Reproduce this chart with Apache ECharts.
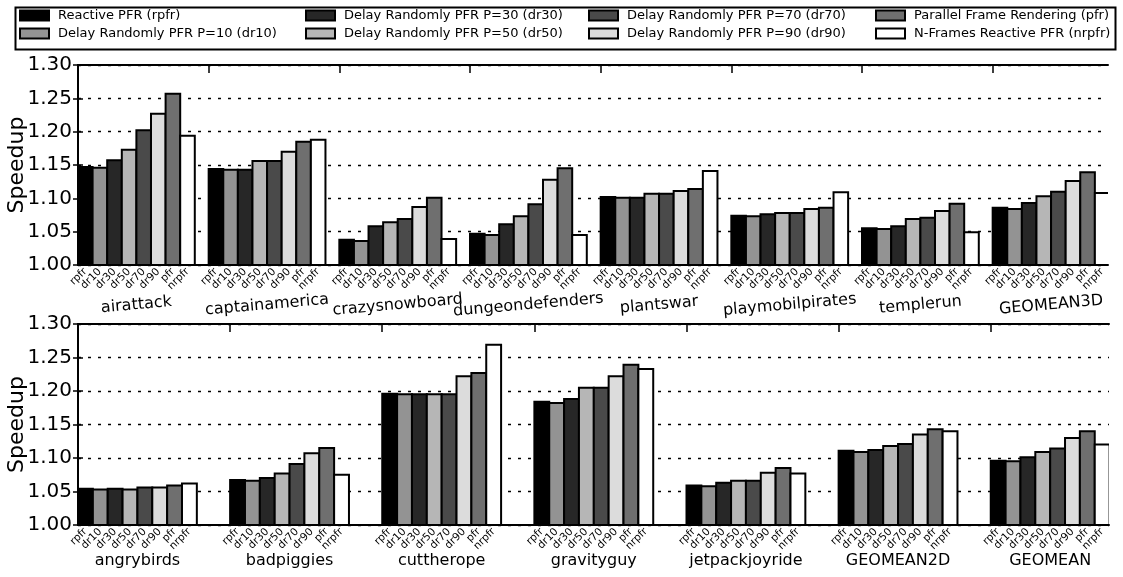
<!DOCTYPE html>
<html>
<head>
<meta charset="utf-8">
<script src="https://cdn.jsdelivr.net/npm/echarts@6/dist/echarts.min.js"></script>
<style>
  html, body { margin: 0; padding: 0; background: #fff; }
  #chart { width: 1123px; height: 577px; }
</style>
</head>
<body>
<div id="chart"></div>
<script>
// Frame-rendering configurations (one bar per configuration in every group)
const configNames = [
  'Reactive PFR (rpfr)',
  'Delay Randomly PFR P=10 (dr10)',
  'Delay Randomly PFR P=30 (dr30)',
  'Delay Randomly PFR P=50 (dr50)',
  'Delay Randomly PFR P=70 (dr70)',
  'Delay Randomly PFR P=90 (dr90)',
  'Parallel Frame Rendering (pfr)',
  'N-Frames Reactive PFR (nrpfr)'
];
const configShort = ['rpfr', 'dr10', 'dr30', 'dr50', 'dr70', 'dr90', 'pfr', 'nrpfr'];

// 3D games: speedup per configuration, in the order of configShort
const groups3D = ['airattack', 'captainamerica', 'crazysnowboard', 'dungeondefenders',
                  'plantswar', 'playmobilpirates', 'templerun', 'GEOMEAN3D'];
const airattack        = [1.147, 1.146, 1.157, 1.173, 1.202, 1.227, 1.257, 1.194];
const captainamerica   = [1.144, 1.143, 1.143, 1.156, 1.156, 1.170, 1.185, 1.188];
const crazysnowboard   = [1.038, 1.036, 1.058, 1.064, 1.069, 1.087, 1.101, 1.039];
const dungeondefenders = [1.047, 1.045, 1.061, 1.073, 1.091, 1.128, 1.145, 1.045];
const plantswar        = [1.102, 1.101, 1.101, 1.107, 1.107, 1.111, 1.114, 1.141];
const playmobilpirates = [1.074, 1.073, 1.076, 1.078, 1.078, 1.084, 1.086, 1.109];
const templerun        = [1.055, 1.054, 1.058, 1.069, 1.071, 1.081, 1.092, 1.049];
const geomean3D        = [1.086, 1.084, 1.093, 1.103, 1.110, 1.126, 1.139, 1.108];

// 2D games
const groups2D = ['angrybirds', 'badpiggies', 'cuttherope', 'gravityguy',
                  'jetpackjoyride', 'GEOMEAN2D', 'GEOMEAN'];
const angrybirds     = [1.054, 1.053, 1.054, 1.053, 1.056, 1.056, 1.059, 1.062];
const badpiggies     = [1.067, 1.066, 1.070, 1.077, 1.091, 1.107, 1.115, 1.075];
const cuttherope     = [1.196, 1.195, 1.195, 1.195, 1.195, 1.222, 1.227, 1.269];
const gravityguy     = [1.184, 1.182, 1.188, 1.205, 1.205, 1.222, 1.239, 1.233];
const jetpackjoyride = [1.059, 1.058, 1.063, 1.066, 1.066, 1.078, 1.085, 1.077];
const geomean2D      = [1.111, 1.109, 1.112, 1.118, 1.121, 1.135, 1.143, 1.140];
const geomean        = [1.096, 1.095, 1.101, 1.109, 1.114, 1.130, 1.140, 1.120];

// Y axis range
const Y_MIN = 1.00, Y_MAX = 1.30, Y_STEP = 0.05;

// ---- styling & layout ----
const FONT = 'DejaVu Sans';
const configColors = ['#000000', '#939393', '#272727', '#b6b6b6', '#4a4a4a', '#dcdcdc', '#6f6f6f', '#ffffff'];

const panels = [
  { groups: groups3D,
    values: [airattack, captainamerica, crazysnowboard, dungeondefenders, plantswar, playmobilpirates, templerun, geomean3D],
    top: 65, height: 200, right: 15, period: 8.95, xMax: 70.55, nameRotate: 5, nameMargin: 40 },
  { groups: groups2D,
    values: [angrybirds, badpiggies, cuttherope, gravityguy, jetpackjoyride, geomean2D, geomean],
    top: 324, height: 201, right: 14, period: 10.24, xMax: 69.4, nameRotate: 0, nameMargin: 36 }
];

function makeBarRenderer(color) {
  return function (params, api) {
    const x = api.value(0), v = api.value(1);
    const base = api.coord([x, Y_MIN]);
    const tip = api.coord([x + 1, v]);
    return {
      type: 'rect',
      shape: { x: base[0], y: tip[1], width: tip[0] - base[0], height: base[1] - tip[1] },
      style: { fill: color, stroke: '#000', lineWidth: 2 }
    };
  };
}

const grids = [], xAxes = [], yAxes = [], series = [];

panels.forEach((p, i) => {
  const nG = p.groups.length;
  grids.push({ left: 78, right: p.right, top: p.top, height: p.height,
               containLabel: false, outerBoundsMode: 'none' });

  const groupCenters = [], groupStarts = [];
  for (let g = 0; g < nG; g++) {
    groupCenters.push(g * p.period + configShort.length / 2);
    if (g > 0) groupStarts.push(g * p.period);
  }
  const groupOf = v => Math.floor(v / p.period + 1e-6);
  const xBase = { type: 'value', gridIndex: i, min: 0, max: p.xMax,
                  splitLine: { show: false } };
  const firstX = xAxes.length;

  // per-bar labels, split over two axes (even / odd configurations)
  // so neighbouring rotated labels never get culled
  [0, 1].forEach(parity => {
    const centers = [];
    for (let g = 0; g < nG; g++) {
      for (let k = parity; k < configShort.length; k += 2) centers.push(g * p.period + k + 0.5);
    }
    xAxes.push(Object.assign({}, xBase, {
      position: 'bottom', z: 10,
      axisLine: { show: parity === 0, lineStyle: { color: '#000', width: 2 } },
      axisTick: { show: false },
      axisLabel: {
        customValues: centers, rotate: 45, margin: 5,
        showMinLabel: true, showMaxLabel: true,
        fontFamily: FONT, fontSize: 10.5, color: '#000',
        formatter: v => configShort[Math.round(v - 0.5 - groupOf(v) * p.period)]
      }
    }));
  });
  // benchmark names
  xAxes.push(Object.assign({}, xBase, {
    position: 'bottom',
    axisLine: { show: false }, axisTick: { show: false },
    axisLabel: {
      customValues: groupCenters, rotate: p.nameRotate, margin: p.nameMargin,
      showMinLabel: true, showMaxLabel: true,
      align: 'center', verticalAlign: 'middle',
      fontFamily: FONT, fontSize: 16, color: '#000',
      formatter: v => p.groups[groupOf(v)]
    }
  }));
  // top frame line with group separators
  xAxes.push(Object.assign({}, xBase, {
    position: 'top', z: 10,
    axisLine: { show: true, lineStyle: { color: '#000', width: 2 } },
    axisTick: { show: true, inside: true, length: 8, customValues: groupStarts,
                lineStyle: { color: '#000', width: 1.5 } },
    axisLabel: { show: false }
  }));

  const yBase = { type: 'value', gridIndex: i, min: Y_MIN, max: Y_MAX, interval: Y_STEP };
  const firstY = yAxes.length;
  // tick labels + dotted grid
  yAxes.push(Object.assign({}, yBase, {
    position: 'left',
    name: 'Speedup', nameLocation: 'middle', nameGap: 50, nameMoveOverlap: false,
    nameTextStyle: { fontFamily: FONT, fontSize: 22, color: '#000' },
    axisLine: { show: false }, axisTick: { show: false },
    axisLabel: { fontFamily: FONT, fontSize: 20, color: '#000', margin: 6,
                 showMinLabel: true, showMaxLabel: true,
                 formatter: v => v.toFixed(2) },
    splitLine: { show: true, lineStyle: { color: '#000', width: 1.3, type: [3, 7] } }
  }));
  // left & right frame lines
  ['left', 'right'].forEach(pos => {
    yAxes.push(Object.assign({}, yBase, {
      position: pos, z: 10,
      axisLine: { show: true, lineStyle: { color: '#000', width: 2 } },
      axisTick: { show: true, inside: true, length: 5, lineStyle: { color: '#000', width: 1.5 } },
      axisLabel: { show: false }, splitLine: { show: false }
    }));
  });

  configShort.forEach((_, k) => {
    series.push({
      type: 'custom', name: configNames[k],
      xAxisIndex: firstX, yAxisIndex: firstY,
      renderItem: makeBarRenderer(configColors[k]),
      itemStyle: { color: configColors[k], borderColor: '#000', borderWidth: 2 },
      encode: { x: 0, y: 1 },
      clip: true, z: 2, silent: true,
      data: p.values.map((gv, g) => [g * p.period + k, gv[k]])
    });
  });
});

// legend: four columns of two entries
const legendColumns = [[0, 1], [2, 3], [4, 5], [6, 7]];
const legendLefts = [19, 305, 588, 875];
const legends = legendColumns.map((col, c) => ({
  orient: 'vertical', left: legendLefts[c], top: 9, padding: 0,
  itemWidth: 29, itemHeight: 10, itemGap: 5, icon: 'rect',
  selectedMode: false,
  itemStyle: { borderColor: '#000', borderWidth: 2 },
  textStyle: { fontFamily: FONT, fontSize: 13, color: '#000', padding: [0, 0, 0, 4] },
  data: col.map(k => configNames[k])
}));

const chart = echarts.init(document.getElementById('chart'), null, { renderer: 'canvas' });
chart.setOption({
  backgroundColor: '#fff',
  animation: false,
  legend: legends,
  graphic: [{
    type: 'rect', left: 13, top: 5, z: 100, silent: true,
    shape: { width: 1100, height: 42 },
    style: { fill: 'none', stroke: '#000', lineWidth: 2 }
  }],
  grid: grids,
  xAxis: xAxes,
  yAxis: yAxes,
  series: series
});
</script>
</body>
</html>
